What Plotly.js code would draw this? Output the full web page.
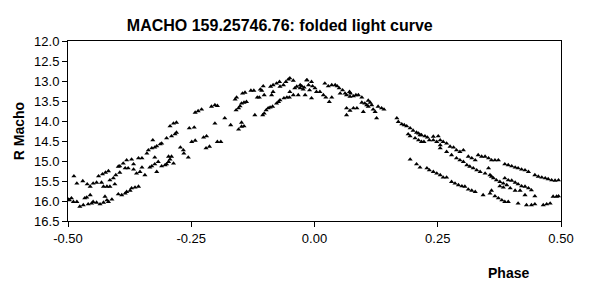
<!DOCTYPE html>
<html>
<head>
<meta charset="utf-8">
<script src="https://cdn.plot.ly/plotly-3.0.1.min.js"></script>
<style>html,body{margin:0;padding:0;background:#fff;}#chart{width:589px;height:293px;}</style>
</head>
<body>
<div id="chart"></div>
<script>
// Folded light curve observations: [phase, R Macho magnitude]
const obsEarly = [
[-0.499,15.96],[-0.497,15.98],[-0.493,15.93],[-0.489,16.02],[-0.488,15.38],[-0.482,15.56],[-0.482,16.02],[-0.476,16.14],
[-0.470,15.50],[-0.469,16.10],[-0.466,15.93],[-0.462,15.91],[-0.461,15.58],[-0.459,16.08],[-0.455,15.64],[-0.455,15.85],
[-0.452,16.06],[-0.449,15.56],[-0.449,16.02],[-0.442,15.54],[-0.442,16.04],[-0.438,15.38],[-0.435,16.08],[-0.432,15.54],
[-0.430,15.33],[-0.428,15.64],[-0.428,16.04],[-0.425,15.89],[-0.424,15.29],[-0.421,15.64],[-0.421,15.98],[-0.418,15.25],
[-0.418,16.02],[-0.415,15.48],[-0.415,15.64],[-0.411,15.96],[-0.408,15.43],[-0.405,15.58],[-0.403,15.35],[-0.398,15.14],
[-0.398,15.83],[-0.395,15.13],[-0.395,15.29],[-0.391,15.85],[-0.388,15.06],[-0.384,15.18],[-0.384,15.81],[-0.381,14.98],
[-0.381,15.77],[-0.378,15.18],[-0.374,15.74],[-0.371,14.96],[-0.371,15.68],[-0.367,15.08],[-0.367,15.21],[-0.364,15.66],
[-0.361,15.31],[-0.357,14.93],[-0.357,15.64],[-0.354,15.27],[-0.350,14.93],[-0.350,15.16],[-0.344,15.35],[-0.340,14.81],
[-0.337,14.73],[-0.334,15.16],[-0.330,14.68],[-0.330,15.13],[-0.328,14.48],[-0.324,14.66],[-0.324,14.91],[-0.324,15.08],
[-0.320,14.63],[-0.320,15.27],[-0.317,15.02],[-0.313,14.58],[-0.310,14.56],[-0.310,15.13],[-0.303,15.10],[-0.300,14.43],
[-0.300,15.08],[-0.296,14.89],[-0.296,15.02],[-0.293,14.13],[-0.293,14.96],[-0.290,14.38],[-0.290,14.89],[-0.286,14.06],
[-0.286,15.06],[-0.283,14.33],[-0.280,14.04],[-0.280,14.29],[-0.272,14.66],[-0.266,14.73],[-0.265,14.81],[-0.256,14.91],
[-0.254,14.18]
];
const obsRise = [
[-0.249,14.52],[-0.242,14.49],[-0.244,14.16],[-0.242,13.79],[-0.236,13.75],[-0.229,13.71],[-0.225,14.41],[-0.219,14.38],
[-0.220,14.68],[-0.213,14.64],[-0.209,13.64],[-0.202,13.60],[-0.197,13.62],[-0.202,14.06],[-0.197,14.52],[-0.190,14.52],
[-0.182,13.93],[-0.170,14.10],[-0.161,13.46],[-0.158,13.41],[-0.159,13.73],[-0.154,13.68],[-0.151,13.63],[-0.148,13.56],
[-0.143,13.54],[-0.138,13.52],[-0.154,14.21],[-0.148,14.14],[-0.143,14.13],[-0.148,14.04],[-0.146,13.31],[-0.141,13.29],
[-0.129,13.24],[-0.123,13.24],[-0.121,13.85],[-0.116,13.41],[-0.112,13.41],[-0.110,13.21],[-0.107,13.24],[-0.104,13.13],
[-0.105,13.85],[-0.102,13.81],[-0.098,13.73],[-0.094,13.68],[-0.090,13.66],[-0.085,13.64],[-0.102,13.35],[-0.089,13.14],
[-0.084,13.10],[-0.077,13.06],[-0.071,13.02],[-0.087,13.35],[-0.084,13.27],[-0.077,13.56],[-0.073,13.52],[-0.070,13.48],
[-0.070,13.14],[-0.063,13.10],[-0.058,13.02],[-0.053,12.96],[-0.050,12.93],[-0.043,12.99],[-0.062,13.43],[-0.056,13.41],
[-0.051,13.41],[-0.050,13.27],[-0.043,13.35],[-0.040,13.18],[-0.036,13.14],[-0.033,13.35],[-0.029,13.18],[-0.026,13.13],
[-0.021,13.16],[-0.019,13.35],[-0.016,12.98],[-0.012,13.10],[-0.010,13.23],[-0.029,13.10],[-0.023,13.21],[-0.015,12.98]
];
const obsFall = [
[-0.006,13.02],[-0.004,13.13],[0.001,13.18],[0.004,13.27],[-0.006,13.43],[0.011,13.27],[0.018,13.35],[0.021,13.06],
[0.023,13.41],[0.028,13.13],[0.030,13.52],[0.035,13.10],[0.035,13.41],[0.042,13.10],[0.046,13.13],[0.050,13.18],
[0.052,13.31],[0.057,13.23],[0.062,13.31],[0.065,13.35],[0.071,13.27],[0.073,13.31],[0.072,13.39],[0.079,13.38],
[0.084,13.35],[0.089,13.35],[0.096,13.41],[0.096,13.54],[0.102,13.56],[0.106,13.60],[0.109,13.49],[0.113,13.54],
[0.116,13.60],[0.119,13.71],[0.065,13.68],[0.072,13.74],[0.079,13.68],[0.086,13.68],[0.099,13.77],[0.109,13.64],
[0.065,13.85],[0.123,13.77],[0.129,13.64],[0.136,13.68],[0.141,13.71],[0.126,13.93],[0.167,13.93],[0.170,14.02],
[0.177,14.08],[0.182,14.10],[0.187,14.13],[0.194,14.18],[0.200,14.24],[0.207,14.29],[0.211,14.31],[0.214,14.35],
[0.217,14.35],[0.224,14.38],[0.229,14.41],[0.233,14.48],[0.190,14.33],[0.194,14.38],[0.204,14.43],[0.211,14.48],
[0.217,14.52],[0.222,14.52],[0.194,14.96],[0.207,15.08],[0.214,15.16],[0.228,15.18],[0.233,15.23]
];
const obsLate = [
[0.241,14.48],[0.248,14.52],[0.255,14.60],[0.261,14.52],[0.268,14.56],[0.275,14.64],[0.282,14.66],[0.288,14.73],
[0.295,14.77],[0.302,14.73],[0.241,14.39],[0.251,14.38],[0.255,14.48],[0.255,14.68],[0.268,14.77],[0.278,14.85],
[0.288,14.93],[0.295,14.98],[0.302,15.02],[0.309,15.10],[0.315,15.14],[0.322,15.18],[0.329,15.23],[0.336,15.27],
[0.346,15.31],[0.356,15.35],[0.363,15.43],[0.369,15.48],[0.376,15.52],[0.383,15.56],[0.390,15.60],[0.312,14.89],
[0.319,14.93],[0.326,14.98],[0.332,14.85],[0.339,14.89],[0.346,14.89],[0.353,14.93],[0.359,14.98],[0.366,14.98],
[0.373,14.98],[0.386,15.08],[0.393,15.10],[0.400,15.13],[0.407,15.16],[0.413,15.18],[0.420,15.21],[0.427,15.23],
[0.434,15.27],[0.353,15.18],[0.359,15.39],[0.386,15.43],[0.393,15.48],[0.400,15.49],[0.407,15.54],[0.413,15.58],
[0.420,15.63],[0.427,15.64],[0.434,15.68],[0.447,15.35],[0.454,15.39],[0.461,15.41],[0.468,15.43],[0.474,15.45],
[0.481,15.48],[0.488,15.49],[0.495,15.48],[0.376,15.63],[0.383,15.66],[0.397,15.68],[0.407,15.74],[0.417,15.74],
[0.440,15.73],[0.427,15.85],[0.447,15.88],[0.241,15.27],[0.248,15.31],[0.255,15.35],[0.261,15.41],[0.268,15.41],
[0.278,15.52],[0.285,15.56],[0.292,15.60],[0.299,15.63],[0.305,15.64],[0.312,15.71],[0.319,15.74],[0.326,15.77],
[0.342,15.85],[0.356,15.81],[0.359,15.74],[0.366,15.88],[0.373,15.93],[0.380,15.98],[0.386,16.02],[0.393,16.02],
[0.413,16.06],[0.430,16.10],[0.440,16.10],[0.447,16.08],[0.464,16.10],[0.471,16.08],[0.478,16.06],[0.484,15.89],
[0.491,15.89],[0.495,15.88]
];

const xTickVals = [-0.5, -0.25, 0, 0.25, 0.5];
const xTickText = ['-0.50', '-0.25', '0.00', '0.25', '0.50'];
const yTickVals = [12.0, 12.5, 13.0, 13.5, 14.0, 14.5, 15.0, 15.5, 16.0, 16.5];
const yTickText = ['12.0','12.5','13.0','13.5','14.0','14.5','15.0','15.5','16.0','16.5'];

const allObs = obsEarly.concat(obsRise, obsFall, obsLate);
const phase = allObs.map(p => p[0]);
const rMag = allObs.map(p => p[1]);

const font = 'Liberation Sans, Arial, sans-serif';

Plotly.newPlot('chart', [{
  type: 'scatter', mode: 'markers',
  x: phase, y: rMag,
  marker: {symbol: 'triangle-up', size: 4.5, color: '#000', line: {width: 0}},
  hoverinfo: 'x+y'
}], {
  width: 589, height: 293,
  margin: {l: 68, r: 28, t: 41, b: 72},
  paper_bgcolor: '#fff', plot_bgcolor: '#fff',
  showlegend: false,
  font: {family: font, color: '#000', size: 13},
  title: {text: '<b>MACHO 159.25746.76: folded light curve</b>', font: {family: font, size: 16, color: '#000'},
          x: 0.475, xref: 'container', xanchor: 'center', y: 0.915, yref: 'container', yanchor: 'middle'},
  xaxis: {range: [-0.5, 0.5], tickmode: 'array', tickvals: xTickVals, ticktext: xTickText,
          showgrid: false, zeroline: false, showline: true, mirror: true, linecolor: '#000', linewidth: 1,
          ticks: 'outside', ticklen: 5, tickcolor: '#000', tickfont: {family: font, size: 13, color: '#000'}},
  yaxis: {range: [16.5, 12.0], tickmode: 'array', tickvals: yTickVals, ticktext: yTickText,
          showgrid: false, zeroline: false, showline: true, mirror: true, linecolor: '#000', linewidth: 1,
          ticks: 'outside', ticklen: 5, tickcolor: '#000', tickfont: {family: font, size: 13, color: '#000'}},
  annotations: [
    {text: '<b>Phase</b>', xref: 'paper', yref: 'paper', x: 0.8925, y: -0.289, xanchor: 'center', yanchor: 'middle',
     showarrow: false, font: {family: font, size: 14, color: '#000'}},
    {text: '<b>R Macho</b>', xref: 'paper', yref: 'paper', x: -0.099, y: 0.5, xanchor: 'center', yanchor: 'middle',
     textangle: -90, showarrow: false, font: {family: font, size: 14, color: '#000'}}
  ]
}, {displayModeBar: false, staticPlot: true});
</script>
</body>
</html>
